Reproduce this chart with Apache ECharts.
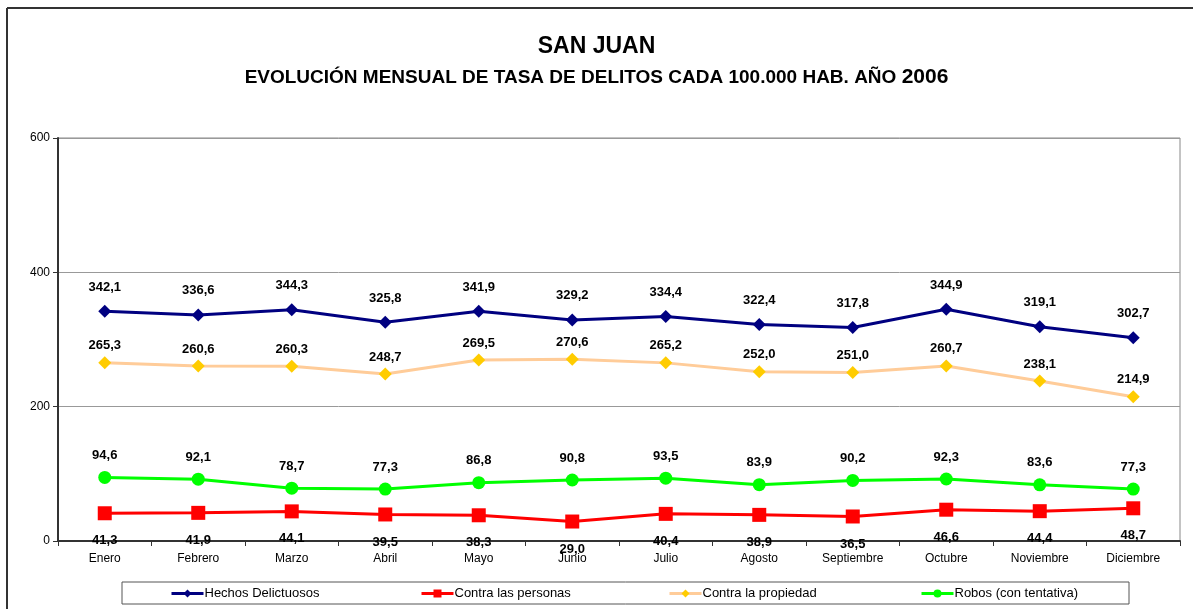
<!DOCTYPE html>
<html>
<head>
<meta charset="utf-8">
<script src="https://cdn.jsdelivr.net/npm/echarts@6/dist/echarts.min.js"></script>
<style>
  html, body { margin: 0; padding: 0; background: #fff; }
  #chart { width: 1193px; height: 609px; }
</style>
</head>
<body>
<div id="chart"></div>
<script>
// meses
var meses = ['Enero', 'Febrero', 'Marzo', 'Abril', 'Mayo', 'Junio', 'Julio', 'Agosto', 'Septiembre', 'Octubre', 'Noviembre', 'Diciembre'];

// tasas cada 100.000 hab.
var hechosDelictuosos = [342.1, 336.6, 344.3, 325.8, 341.9, 329.2, 334.4, 322.4, 317.8, 344.9, 319.1, 302.7];
var contraPersonas = [41.3, 41.9, 44.1, 39.5, 38.3, 29.0, 40.4, 38.9, 36.5, 46.6, 44.4, 48.7];
var contraPropiedad = [265.3, 260.6, 260.3, 248.7, 269.5, 270.6, 265.2, 252.0, 251.0, 260.7, 238.1, 214.9];
var robos = [94.6, 92.1, 78.7, 77.3, 86.8, 90.8, 93.5, 83.9, 90.2, 92.3, 83.6, 77.3];

var fuente = 'Arial, "Liberation Sans", sans-serif';

function coma(p) {
    return p.value.toFixed(1).replace('.', ',');   // decimal con coma
}

function etiqueta(pos, dist) {
    return {
        show: true,
        position: pos,
        distance: dist,
        formatter: coma,
        fontFamily: fuente,
        fontSize: 13,
        fontWeight: 'bold',
        color: '#000'
    };
}

function serie(nombre, datos, colorLinea, colorMarca, simbolo, tam, pos, dist, z) {
    return {
        name: nombre,
        type: 'line',
        data: datos,
        symbol: simbolo,
        symbolSize: tam,
        z: z,
        lineStyle: { color: colorLinea, width: 3 },
        itemStyle: { color: colorMarca, borderWidth: 0 },
        label: etiqueta(pos, dist),
        animation: false
    };
}

function leyenda(nombre, x) {
    return {
        data: [nombre],
        left: x,
        top: 587,
        padding: 0,
        itemWidth: 32,
        itemHeight: 10,
        itemGap: 0,
        lineStyle: { width: 3 },
        textStyle: { fontFamily: fuente, fontSize: 13, color: '#000', padding: [0, 0, 0, -4] },
        selectedMode: false
    };
}

var chart = echarts.init(document.getElementById('chart'));
var option = {
    backgroundColor: '#fff',
    animation: false,
    title: {
        text: 'SAN JUAN',
        subtext: '{a|EVOLUCIÓN MENSUAL DE TASA DE DELITOS CADA 100.000 HAB. AÑO }{b|2006}',
        left: 'center',
        top: 30,
        itemGap: 9,
        textStyle: { fontFamily: fuente, fontSize: 23, fontWeight: 'bold', color: '#000' },
        subtextStyle: {
            rich: {
                a: { fontFamily: fuente, fontSize: 19, fontWeight: 'bold', color: '#000' },
                b: { fontFamily: fuente, fontSize: 21, fontWeight: 'bold', color: '#000' }
            }
        }
    },
    legend: [
        leyenda('Hechos Delictuosos', 170),
        leyenda('Contra las personas', 420),
        leyenda('Contra la propiedad', 668),
        leyenda('Robos (con tentativa)', 920)
    ],
    grid: {
        left: 58, right: 13, top: 138, bottom: 68,
        show: true,
        borderColor: '#888',
        borderWidth: 1
    },
    xAxis: {
        type: 'category',
        data: meses,
        boundaryGap: true,
        axisLine: { lineStyle: { color: '#333', width: 2 } },
        axisTick: { show: true, length: 5, lineStyle: { color: '#333' } },
        axisLabel: { fontFamily: fuente, fontSize: 12, color: '#000', margin: 12 }
    },
    yAxis: {
        type: 'value',
        min: 0,
        max: 600,
        interval: 200,
        axisLine: { show: true, lineStyle: { color: '#333', width: 2 } },
        axisTick: { show: true, length: 5, lineStyle: { color: '#333' } },
        axisLabel: { fontFamily: fuente, fontSize: 12, color: '#000', margin: 8 },
        splitLine: { lineStyle: { color: '#999', width: 1 } }
    },
    graphic: [
        { type: 'line', shape: { x1: 7, y1: 8, x2: 1193, y2: 8 }, style: { stroke: '#333', lineWidth: 2 } },
        { type: 'line', shape: { x1: 7, y1: 8, x2: 7, y2: 609 }, style: { stroke: '#333', lineWidth: 2 } },
        { type: 'rect', shape: { x: 122, y: 582, width: 1007, height: 22 }, style: { fill: 'none', stroke: '#555', lineWidth: 1 }, z: -1 }
    ],
    series: [
        serie('Hechos Delictuosos', hechosDelictuosos, '#000080', '#000080', 'diamond', 13, 'top', 11, 4),
        serie('Contra las personas', contraPersonas, '#FF0000', '#FF0000', 'rect', 14, 'bottom', 14, 3),
        serie('Contra la propiedad', contraPropiedad, '#FFCC99', '#FFCC00', 'diamond', 13, 'top', 4, 2),
        serie('Robos (con tentativa)', robos, '#00FF00', '#00FF00', 'circle', 13, 'top', 9, 3)
    ]
};
chart.setOption(option);
</script>
</body>
</html>
